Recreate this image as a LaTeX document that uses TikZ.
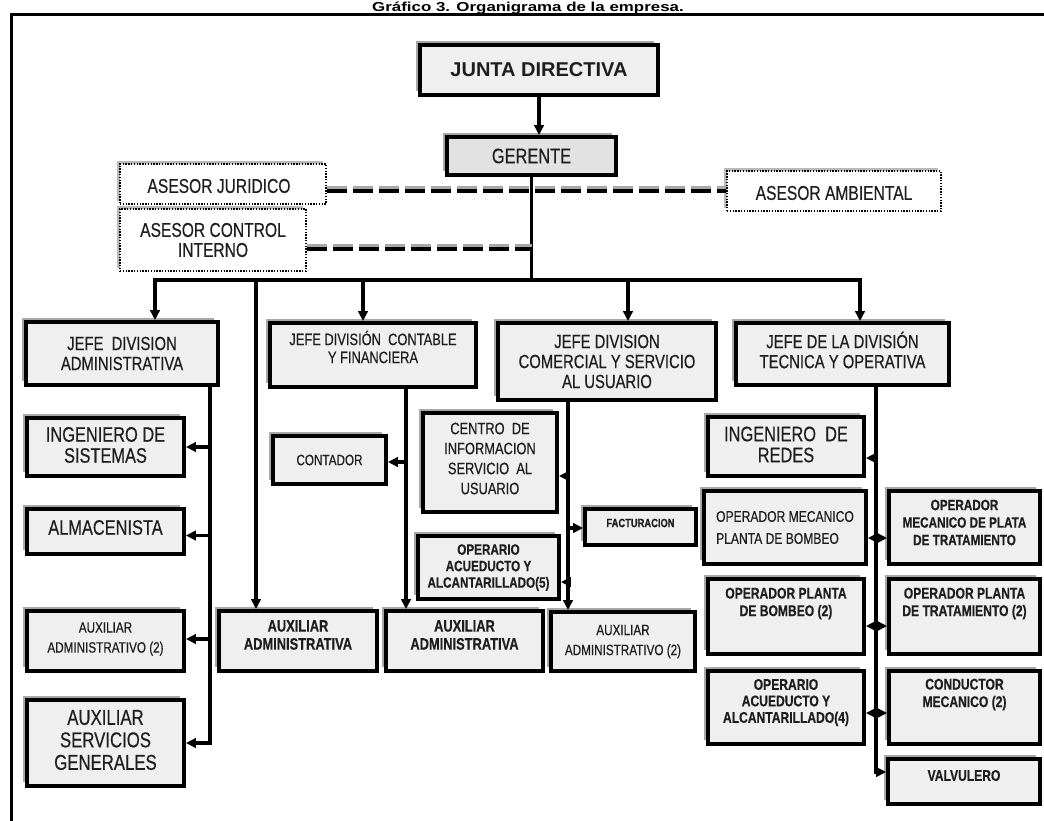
\documentclass[tikz,border=0pt]{standalone}
\usepackage{fontspec}
\newfontfamily\nf{Liberation Sans}[FakeStretch=0.78,FakeBold=0.4]
\newfontfamily\tf{Liberation Sans}
\newfontfamily\ttlf{Liberation Sans}[FakeStretch=1.3]
\usetikzlibrary{arrows.meta,shadows,calc}
\definecolor{boxfill}{HTML}{EFEFEF}
\definecolor{gerfill}{HTML}{E2E2E2}
\definecolor{txtc}{HTML}{1E1E1E}
\definecolor{shd}{HTML}{A8A8A8}
\newcommand\fsz[2]{\fontsize{#1}{#2}\selectfont}
\begin{document}
\begin{tikzpicture}[x=1pt,y=-1pt,
  box/.style 2 args={draw=black, line width=3.8pt, fill=boxfill, minimum width=#1pt, minimum height=#2pt, inner sep=0pt,
     drop shadow={shadow xshift=-4pt, shadow yshift=4pt, fill=shd, opacity=1}},
  asesor/.style 2 args={draw=black, line width=1.4pt, dash pattern=on 1.4pt off 1.4pt, fill=white, minimum width=#1pt, minimum height=#2pt, inner sep=0pt,
     drop shadow={shadow xshift=-3pt, shadow yshift=3pt, fill=shd!80, opacity=1}},
  txt/.style={align=center, inner sep=0pt, text=txtc, font=\nf},
  conn/.style={line width=3.2pt, draw=black},
  arr/.style={line width=3.2pt, draw=black, -{Triangle[length=10pt,width=9.5pt]}},
  dsh/.style={line width=4pt, dash pattern=on 20pt off 6pt},
]
\useasboundingbox (0,0) rectangle (1044,820);
\fill[white] (0,0) rectangle (1044,820);

% title and frame
\node[font=\ttlf\bfseries\fsz{13}{14}, anchor=base, inner sep=0pt] (ttl) at (528,11) {Gráfico 3. Organigrama de la empresa.};
\draw[line width=3pt] (1050,14.5) -- (11,14.5) -- (11,830);

% top
\node[box={238}{50}] (junta) at (539,70) {};
\node[txt, font=\tf\bfseries\fsz{20}{22}] (juntaT) at (junta) {JUNTA DIRECTIVA};
\node[box={169}{38}, fill=gerfill] (ger) at (531.5,156) {};
\node[txt, font=\nf\fsz{21}{22}] (gerT) at (ger) {GERENTE};

% advisors
\node[asesor={206}{40}] (asjur) at (223,184) {};
\node[txt, font=\nf\fsz{20}{22}] (asjurT) at ($(asjur)+(-4,2)$) {ASESOR JURIDICO};
\node[asesor={214}{40}] (asamb) at (834,191) {};
\node[txt, font=\nf\fsz{20}{22}] (asambT) at ($(asamb)+(0,2)$) {ASESOR AMBIENTAL};
\node[asesor={186}{62}] (ascon) at (213,240) {};
\node[txt, font=\nf\fsz{20}{20}] (asconT) at (ascon) {ASESOR CONTROL\\INTERNO};

% division heads
\node[box={192}{63}] (adm) at (122,353.5) {};
\node[txt, font=\nf\fsz{19}{20}] (admT) at (adm) {JEFE~ DIVISION\\ADMINISTRATIVA};
\node[box={206}{64}] (cont) at (373,355) {};
\node[txt, font=\nf\fsz{16.5}{18}] (contT) at ($(cont)+(0,-8)$) {JEFE DIVISIÓN~ CONTABLE\\Y FINANCIERA};
\node[box={218}{77}] (com) at (607,361.5) {};
\node[txt, font=\nf\fsz{19}{20}] (comT) at (com) {JEFE DIVISION\\COMERCIAL Y SERVICIO\\AL USUARIO};
\node[box={213}{62}] (tec) at (842.5,354) {};
\node[txt, font=\nf\fsz{19}{20}] (tecT) at ($(tec)+(0,-4)$) {JEFE DE LA DIVISIÓN\\TECNICA Y OPERATIVA};

% administrative column
\node[box={157}{58}] (ingsis) at (105.5,447) {};
\node[txt, font=\nf\fsz{21}{21}] (ingsisT) at ($(ingsis)+(0,-2)$) {INGENIERO DE\\SISTEMAS};
\node[box={157}{45}] (alm) at (105.5,531.5) {};
\node[txt, font=\nf\fsz{21}{22}] (almT) at ($(alm)+(0,-4)$) {ALMACENISTA};
\node[box={157}{60}] (auxadm2) at (105.5,641) {};
\node[txt, font=\nf\fsz{15}{20}] (auxadm2T) at ($(auxadm2)+(0,-2)$) {AUXILIAR\\ADMINISTRATIVO (2)};
\node[box={157}{86}] (auxsg) at (105.5,743) {};
\node[txt, font=\nf\fsz{21.5}{22.5}] (auxsgT) at ($(auxsg)+(0,-3)$) {AUXILIAR\\SERVICIOS\\GENERALES};

% bottom middle
\node[box={158}{60}] (aux1) at (298,641) {};
\node[txt, font=\nf\bfseries\fsz{16.5}{18}] (aux1T) at ($(aux1)+(0,-6)$) {AUXILIAR\\ADMINISTRATIVA};
\node[box={157}{60}] (aux2) at (464.5,641) {};
\node[txt, font=\nf\bfseries\fsz{16.5}{18}] (aux2T) at ($(aux2)+(0,-6)$) {AUXILIAR\\ADMINISTRATIVA};
\node[box={144}{59}] (aux3) at (623,641.5) {};
\node[txt, font=\nf\fsz{15}{20}] (aux3T) at (aux3) {AUXILIAR\\ADMINISTRATIVO (2)};

% contable / comercial children
\node[box={113}{48}] (contador) at (329.5,460) {};
\node[txt, font=\nf\fsz{15}{16}] (contadorT) at (contador) {CONTADOR};
\node[box={134}{99}] (centro) at (490,462.5) {};
\node[txt, font=\nf\fsz{16.5}{20}] (centroT) at ($(centro)+(0,-4)$) {CENTRO~ DE\\INFORMACION\\SERVICIO~ AL\\USUARIO};
\node[box={111}{36}] (fact) at (640.5,527) {};
\node[txt, font=\nf\bfseries\fsz{12}{14}] (factT) at ($(fact)+(0,-4)$) {FACTURACION};
\node[box={141}{63}] (oper5) at (488.5,567.5) {};
\node[txt, font=\nf\bfseries\fsz{15}{16.5}] (oper5T) at (oper5) {OPERARIO\\ACUEDUCTO Y\\ALCANTARILLADO(5)};

% technical column
\node[box={156}{59}] (redes) at (786,446.5) {};
\node[txt, font=\nf\fsz{21}{21}] (redesT) at ($(redes)+(0,-2)$) {INGENIERO~ DE\\REDES};
\node[box={162}{73}] (opmb) at (785,527.5) {};
\node[txt, font=\nf\fsz{15.5}{22}, align=left] (opmbT) at (opmb) {OPERADOR MECANICO\\PLANTA DE BOMBEO};
\node[box={151}{73}] (opmt) at (964.5,527.5) {};
\node[txt, font=\nf\bfseries\fsz{15}{17.5}] (opmtT) at ($(opmt)+(0,-5)$) {OPERADOR\\MECANICO DE PLATA\\DE TRATAMIENTO};
\node[box={156}{75}] (opb) at (786,616.5) {};
\node[txt, font=\nf\bfseries\fsz{15.5}{17.5}] (opbT) at ($(opb)+(0,-13)$) {OPERADOR PLANTA\\DE BOMBEO (2)};
\node[box={151}{75}] (opt) at (964.5,616.5) {};
\node[txt, font=\nf\bfseries\fsz{15.5}{17.5}] (optT) at ($(opt)+(0,-13)$) {OPERADOR PLANTA\\DE TRATAMIENTO (2)};
\node[box={156}{73}] (oper4) at (786,707.5) {};
\node[txt, font=\nf\bfseries\fsz{15.5}{16.5}] (oper4T) at ($(oper4)+(0,-5)$) {OPERARIO\\ACUEDUCTO Y\\ALCANTARILLADO(4)};
\node[box={151}{73}] (cond) at (964.5,707.5) {};
\node[txt, font=\nf\bfseries\fsz{15.5}{17.5}] (condT) at ($(cond)+(0,-13)$) {CONDUCTOR\\MECANICO (2)};
\node[box={152}{45}] (valv) at (964,781.5) {};
\node[txt, font=\nf\bfseries\fsz{15.5}{17.5}] (valvT) at ($(valv)+(0,-6)$) {VALVULERO};

% top connectors
\draw[arr] (junta.south) -- (junta.south |- ger.north);
\coordinate (busL) at (155,280);
\coordinate (busR) at (860,280);
\coordinate (busM) at (ger.south |- busL);
\coordinate (bA) at (256,280);
\coordinate (bC) at (363,280);
\coordinate (bK) at (628,280);
\draw[conn] (ger.south) -- (busM);
\draw[conn, line cap=rect] (busL) -- (busR);
\draw[arr] (busL) -- (busL |- adm.north);
\draw[arr] (bA) -- (bA |- aux1.north);
\draw[arr] (bC) -- (bC |- cont.north);
\draw[arr] (bK) -- (bK |- com.north);
\draw[arr] (busR) -- (busR |- tec.north);

% dashed advisor links
\coordinate (dJ) at (ger.south |- asamb.west);
\coordinate (dC) at (ger.south |- 0,249);
\draw[dsh, shd] ([yshift=3pt]asjur.east |- asamb.west) -- ([yshift=3pt]asamb.west);
\draw[dsh, shd] ([yshift=3pt]ascon.east |- dC) -- ([yshift=3pt]dC);
\draw[dsh] (asjur.east |- asamb.west) -- (asamb.west);
\draw[dsh] (ascon.east |- dC) -- (dC);

% administrative column links
\coordinate (a0) at ($(adm.south)+(88,0)$);
\coordinate (a1) at (a0 |- ingsis.east);
\coordinate (a2) at ($(a0 |- alm.east)+(0,4)$);
\coordinate (a3) at ($(a0 |- auxadm2.east)+(0,-2)$);
\draw[arr] (a0) |- (auxsg.east);
\draw[arr] (a1) -- (a1 -| ingsis.east);
\draw[arr] (a2) -- (a2 -| alm.east);
\draw[arr] (a3) -- (a3 -| auxadm2.east);

% contable links
\coordinate (c0) at ($(cont.south)+(33,0)$);
\coordinate (c1) at ($(c0 |- contador.east)+(0,2)$);
\draw[arr] (c0) -- (c0 |- aux2.north);
\draw[arr] (c1) -- (c1 -| contador.east);

% comercial links
\coordinate (k0) at ($(com.south)+(-39,0)$);
\coordinate (k1) at ($(k0 |- centro.east)+(0,13.5)$);
\coordinate (k2) at ($(k0 |- fact.west)+(0,1)$);
\coordinate (k3) at ($(k0 |- oper5.east)+(0,14.5)$);
\draw[arr] (k0) -- (k0 |- aux3.north);
\draw[arr] (k1) -- (k1 -| centro.east);
\draw[arr] (k2) -- (k2 -| fact.west);
\draw[arr] (k3) -- (k3 -| oper5.east);

% technical links
\coordinate (t0) at ($(tec.south)+(33.5,0)$);
\coordinate (tv) at ($(valv.west)+(0,-9.5)$);
\coordinate (t1) at ($(t0 |- redes.east)+(0,11.5)$);
\coordinate (t2) at ($(t0 |- opmb.east)+(0,10.5)$);
\coordinate (t3) at ($(t0 |- opb.east)+(0,9.5)$);
\coordinate (t4) at ($(t0 |- oper4.east)+(0,5.5)$);
\draw[arr] (t0) |- (tv);
\draw[arr] (t1) -- (t1 -| redes.east);
\draw[arr] (t2) -- (t2 -| opmb.east);
\draw[arr] (t2) -- (t2 -| opmt.west);
\draw[arr] (t3) -- (t3 -| opb.east);
\draw[arr] (t3) -- (t3 -| opt.west);
\draw[arr] (t4) -- (t4 -| oper4.east);
\draw[arr] (t4) -- (t4 -| cond.west);
\end{tikzpicture}
\end{document}
